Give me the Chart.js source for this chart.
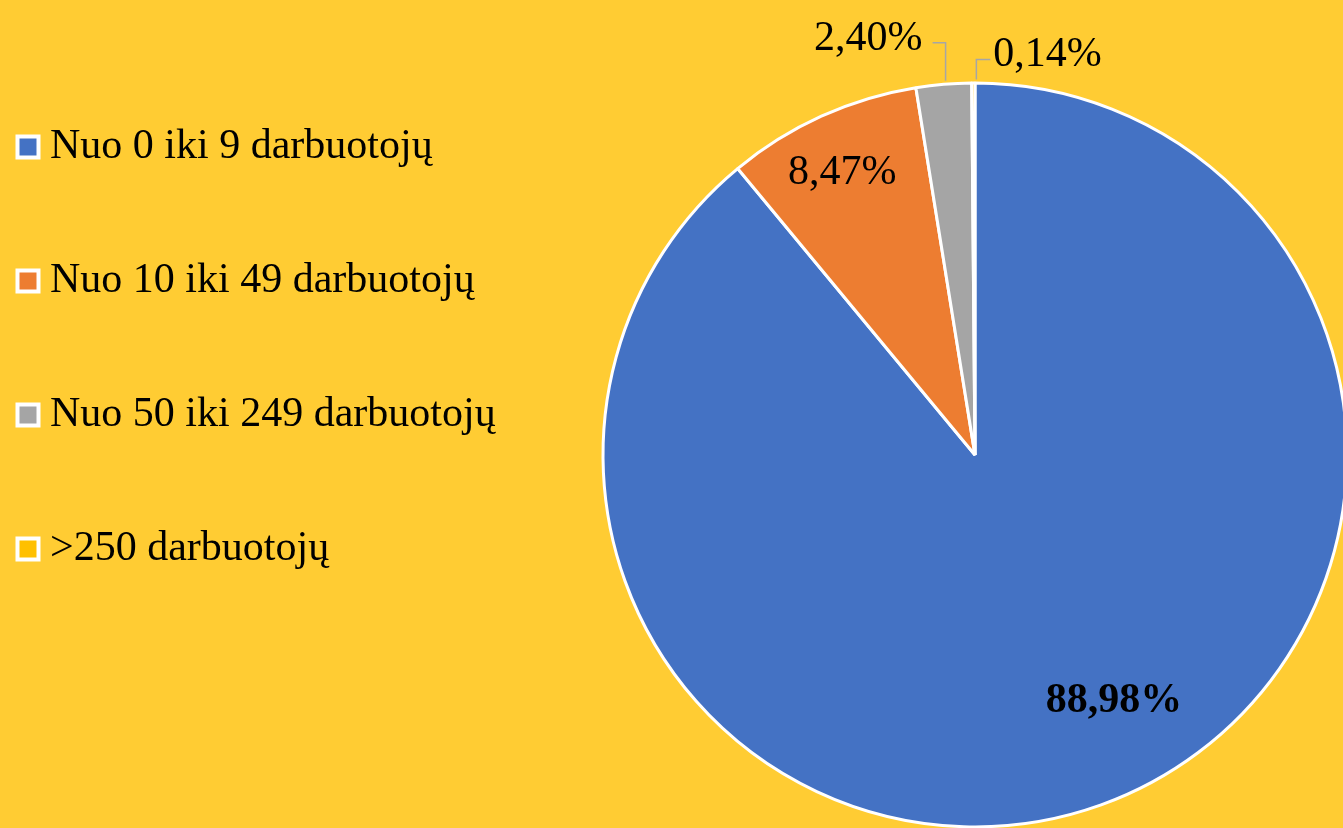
<!DOCTYPE html>
<html><head><meta charset="utf-8">
<script src="https://cdn.jsdelivr.net/npm/chart.js@4.4.0/dist/chart.umd.min.js"></script>
<style>
html,body{margin:0;padding:0;background:#FFCC33;overflow:hidden;width:1343px;height:828px;}
#wrap{position:absolute;left:0;top:0;width:1388px;height:910px;}
</style></head><body>
<div id="wrap"><canvas id="c"></canvas></div>
<script>
const categories = ['Nuo 0 iki 9 darbuotojų', 'Nuo 10 iki 49 darbuotojų', 'Nuo 50 iki 249 darbuotojų', '>250 darbuotojų'];
const shares = [88.98, 8.47, 2.40, 0.14];
const valueLabels = ['88,98%', '8,47%', '2,40%', '0,14%'];
const sliceColors = ['#4472C4', '#ED7D31', '#A5A5A5', '#FFC000'];

const FONT = "'Liberation Serif','Times New Roman',serif";
const LEGEND_WIDTH = 560;

// label placement (style, not data)
const labelPlacement = [
  {mode: 'inside', r: 0.752, shift: -10, bold: true},
  {mode: 'inside', r: 0.845, shift: -0.6},
  {mode: 'outside', side: 'left', rise: 40, run: 13, dx: 2, gap: 10, dy: 7},
  {mode: 'outside', side: 'right', rise: 22, run: 14, dx: 3, gap: 3, dy: 6}
];

const legendWidthPlugin = {
  id: 'legendWidth',
  beforeLayout(chart) {
    const lg = chart.legend;
    if (lg && !lg._fixedFit) {
      const f = lg.fit;
      lg.fit = function () { f.call(this); this.width = LEGEND_WIDTH; };
      lg._fixedFit = true;
    }
  }
};

const pieLabels = {
  id: 'pieLabels',
  afterDatasetsDraw(chart) {
    const ctx = chart.ctx;
    const meta = chart.getDatasetMeta(0);
    meta.data.forEach((arc, i) => {
      const p = arc.getProps(['x', 'y', 'startAngle', 'endAngle', 'outerRadius'], true);
      const pl = labelPlacement[i];
      const mid = (p.startAngle + p.endAngle) / 2;
      ctx.save();
      ctx.fillStyle = '#000';
      ctx.font = (pl.bold ? 'bold ' : '') + '42px ' + FONT;
      ctx.textBaseline = 'alphabetic';
      if (pl.mode === 'inside') {
        const a = mid + pl.shift * Math.PI / 180;
        const tx = p.x + Math.cos(a) * p.outerRadius * pl.r;
        const ty = p.y + Math.sin(a) * p.outerRadius * pl.r;
        ctx.textAlign = 'center';
        ctx.fillText(valueLabels[i], tx, ty + 14);
      } else {
        const ax = p.x + Math.cos(mid) * (p.outerRadius + 1.5) + pl.dx;
        const ay = p.y + Math.sin(mid) * (p.outerRadius + 1.5);
        const ey = ay - pl.rise;
        const dir = pl.side === 'left' ? -1 : 1;
        const ex = ax + dir * pl.run;
        ctx.strokeStyle = '#A6A6A6';
        ctx.lineWidth = 1.5;
        ctx.beginPath();
        ctx.moveTo(ax, ay - 2);
        ctx.lineTo(ax, ey);
        ctx.lineTo(ex, ey);
        ctx.stroke();
        ctx.textAlign = pl.side === 'left' ? 'right' : 'left';
        ctx.fillText(valueLabels[i], ex + dir * pl.gap, ey + pl.dy);
      }
      ctx.restore();
    });
  }
};

new Chart(document.getElementById('c'), {
  type: 'pie',
  data: {
    labels: categories,
    datasets: [{
      data: shares,
      backgroundColor: sliceColors,
      borderColor: '#FFFFFF',
      borderWidth: 3
    }]
  },
  options: {
    responsive: true,
    maintainAspectRatio: false,
    animation: false,
    events: [],
    radius: 372,
    layout: {padding: {left: 2, right: 0, top: 0, bottom: 0}},
    plugins: {
      tooltip: {enabled: false},
      legend: {
        position: 'left',
        align: 'start',
        title: {display: true, text: ' ', font: {size: 10, lineHeight: 1}, padding: {top: 91, bottom: 0}},
        labels: {
          font: {family: FONT, size: 42},
          color: '#000',
          usePointStyle: true,
          pointStyle: 'rect',
          boxWidth: 2,
          boxHeight: 21,
          padding: 25,
          generateLabels(chart) {
            const items = [];
            categories.forEach((c, i) => {
              if (i > 0) items.push({text: '', fillStyle: 'rgba(0,0,0,0)', strokeStyle: 'rgba(0,0,0,0)', lineWidth: 0, pointStyle: 'rect', hidden: false, index: -1});
              items.push({text: c, fillStyle: sliceColors[i], strokeStyle: '#FFFFFF', lineWidth: 4, pointStyle: 'rect', hidden: false, index: i, fontColor: '#000'});
            });
            return items;
          }
        }
      }
    }
  },
  plugins: [legendWidthPlugin, pieLabels]
});
</script>
</body></html>
